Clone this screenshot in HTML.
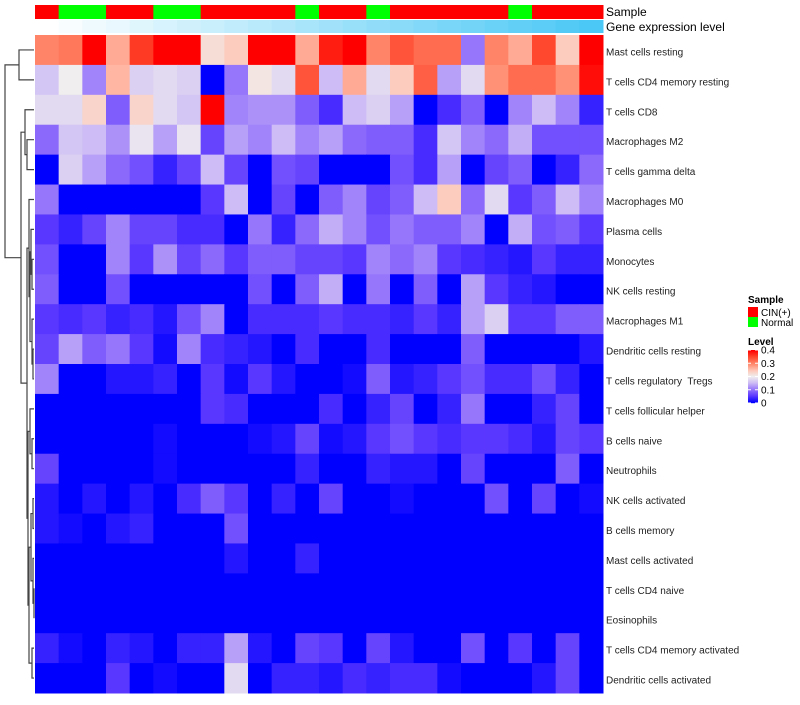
<!DOCTYPE html>
<html><head><meta charset="utf-8"><style>
body{margin:0;background:#fff;}
svg text{font-family:"Liberation Sans",sans-serif;white-space:pre;}
</style></head><body>
<svg id="chart" width="800" height="700" xmlns="http://www.w3.org/2000/svg"></svg>
<script>
const rowNames=["Mast cells resting","T cells CD4 memory resting","T cells CD8","Macrophages M2","T cells gamma delta","Macrophages M0","Plasma cells","Monocytes","NK cells resting","Macrophages M1","Dendritic cells resting","T cells regulatory  Tregs","T cells follicular helper","B cells naive","Neutrophils","NK cells activated","B cells memory","Mast cells activated","T cells CD4 naive","Eosinophils","T cells CD4 memory activated","Dendritic cells activated"];
const sampleGroups=["CIN(+)","Normal","Normal","CIN(+)","CIN(+)","Normal","Normal","CIN(+)","CIN(+)","CIN(+)","CIN(+)","Normal","CIN(+)","CIN(+)","Normal","CIN(+)","CIN(+)","CIN(+)","CIN(+)","CIN(+)","Normal","CIN(+)","CIN(+)","CIN(+)"];
const geneLevel=[0,0.04,0.09,0.13,0.17,0.22,0.26,0.3,0.35,0.39,0.43,0.48,0.52,0.57,0.61,0.65,0.7,0.74,0.78,0.83,0.87,0.91,0.96,1];
const r0=[.3,.31,.4,.27,.36,.4,.4,.22,.24,.4,.4,.27,.38,.4,.3,.34,.32,.32,.1,.3,.27,.35,.24,.4];
const r1=[.16,.2,.11,.26,.17,.18,.17,0,.1,.21,.18,.34,.15,.27,.18,.24,.33,.13,.18,.29,.32,.32,.29,.39];
const r2=[.18,.18,.23,.08,.23,.18,.16,.4,.11,.12,.12,.08,.04,.15,.17,.13,0,.04,.08,0,.11,.15,.11,.03];
const r3=[.09,.16,.15,.12,.19,.13,.19,.06,.13,.11,.15,.11,.13,.09,.08,.08,.04,.16,.11,.09,.14,.07,.07,.07];
const r4=[0,.17,.13,.09,.07,.03,.06,.15,.06,0,.07,.06,0,0,0,.07,.04,.13,0,.06,.08,0,.03,.09];
const r5=[.1,0,0,0,0,0,0,.05,.15,0,.06,0,.08,.11,.06,.08,.15,.24,.09,.18,.05,.08,.15,.11];
const r6=[.05,.03,.06,.11,.06,.06,.04,.04,0,.1,.03,.09,.14,.11,.07,.1,.08,.08,.11,0,.14,.07,.08,.05];
const r7=[.07,0,0,.11,.05,.12,.06,.09,.05,.08,.08,.06,.06,.05,.11,.09,.11,.05,.04,.03,.02,.05,.03,.03];
const r8=[.08,0,0,.07,0,0,0,0,0,.07,0,.08,.14,0,.1,0,.08,0,.13,.05,.03,.02,0,0];
const r9=[.05,.04,.05,.03,.04,.02,.07,.11,0,.04,.04,.04,.05,.04,.04,.03,.05,.03,.13,.17,.05,.05,.08,.08];
const r10=[.06,.13,.08,.1,.05,.01,.11,.04,.03,.02,0,.04,0,0,.04,0,0,0,.08,0,0,0,0,.02];
const r11=[.11,0,0,.02,.02,.03,0,.05,.01,.05,.02,0,0,.01,.08,.02,.03,.05,.07,.04,.04,.07,.03,0];
const r12=[0,0,0,0,0,0,0,.05,.04,0,0,0,.04,0,.03,.06,0,.03,.1,0,0,.03,.06,0];
const r13=[0,0,0,0,0,.01,0,0,0,.01,.02,.06,.01,.02,.05,.07,.05,.04,.05,.05,.04,.02,.06,.05];
const r14=[.06,0,0,0,0,.01,0,0,0,0,0,.03,0,0,.03,.02,.02,0,.06,0,0,0,.08,0];
const r15=[.02,0,.02,0,.02,0,.04,.08,.05,0,.03,0,.06,0,0,.01,0,0,0,.07,0,.06,0,.01];
const r16=[.02,.01,0,.02,.03,0,0,0,.07,0,0,0,0,0,0,0,0,0,0,0,0,0,0,0];
const r17=[0,0,0,0,0,0,0,0,.02,0,0,.03,0,0,0,0,0,0,0,0,0,0,0,0];
const r18=[0,0,0,0,0,0,0,0,0,0,0,0,0,0,0,0,0,0,0,0,0,0,0,0];
const r19=[0,0,0,0,0,0,0,0,0,0,0,0,0,0,0,0,0,0,0,0,0,0,0,0];
const r20=[.03,.01,0,.03,.02,0,.03,.03,.13,.02,0,.06,.05,0,.06,.02,0,0,.07,0,.05,0,.06,0];
const r21=[0,0,0,.05,0,.01,0,0,.18,0,.03,.03,.02,.04,.03,.04,.04,.01,0,0,0,.02,.06,0];
const values=[r0,r1,r2,r3,r4,r5,r6,r7,r8,r9,r10,r11,r12,r13,r14,r15,r16,r17,r18,r19,r20,r21];
const legendTicks=[0.4,0.3,0.2,0.1,0];

const NS="http://www.w3.org/2000/svg";
const svg=document.getElementById('chart');
function mk(t,a,p){const e=document.createElementNS(NS,t);for(const k in a)e.setAttribute(k,a[k]);(p||svg).appendChild(e);return e;}
const X0=35,X1=603,Y0=35,Y1=693;
const nC=sampleGroups.length,nR=rowNames.length;
const cw=(X1-X0)/nC,rh=(Y1-Y0)/nR;
const xs=i=>X0+i*cw, ys=j=>Y0+j*rh;
const stops=[[0,[0,0,255]],[0.05,[90,55,255]],[0.1,[150,118,250]],[0.15,[205,188,245]],[0.2,[240,238,238]],[0.25,[255,195,178]],[0.3,[255,132,104]],[0.35,[255,72,45]],[0.4,[255,0,0]]];
function col(v){v=Math.max(0,Math.min(0.4,v));for(let i=1;i<stops.length;i++){if(v<=stops[i][0]){const a=stops[i-1],b=stops[i],t=(v-a[0])/(b[0]-a[0]);const c=a[1].map((x,k)=>Math.round(x+(b[1][k]-x)*t));return `rgb(${c})`;}}return 'rgb(255,0,0)';}
sampleGroups.forEach((g,i)=>{const r=mk('rect',{x:xs(i),y:5,width:cw+0.5,height:14,fill:g==="Normal"?"#00ff00":"#ff0000"});

});
geneLevel.forEach((v,i)=>{const c=[255-Math.round(180*v),255-Math.round(55*v),255-Math.round(10*v)];const r=mk('rect',{x:xs(i),y:20,width:cw+0.5,height:13,fill:`rgb(${c})`});

});
let t=mk('text',{x:606,y:16,'font-size':12});t.textContent="Sample";
t=mk('text',{x:606,y:31,'font-size':12});t.textContent="Gene expression level";
values.forEach((row,j)=>row.forEach((v,i)=>{const r=mk('rect',{x:xs(i),y:ys(j),width:cw+0.5,height:rh+0.5,fill:col(v)});

}));
rowNames.forEach((n,j)=>{const e=mk('text',{x:606,y:ys(j)+rh/2+5.5,'font-size':10,fill:'#222'});e.textContent=n;

});
const tree=[5,[19,0,1],[21,[25,2,[27,3,4]],[27,[29,5,[30,[31,6,[32,7,8]],[32,9,[33,10,11]]]],[28,[30,12,[32,13,14]],[29,[31,[33,15,16],[33,17,[34,18,19]]],[32,20,21]]]]]];
const dg=mk('g',{stroke:'#444','stroke-width':1.2,fill:'none'});


function draw(n){if(typeof n==='number')return {x:X0-1,y:ys(n)+rh/2};const h=n[0],a=draw(n[1]),b=draw(n[2]);
mk('path',{d:`M${a.x},${a.y}H${h}V${b.y}H${b.x}`},dg);return {x:h,y:(a.y+b.y)/2};}
draw(tree);
t=mk('text',{x:748,y:303,'font-size':10,'font-weight':'bold'});t.textContent="Sample";
[["CIN(+)","#ff0000"],["Normal","#00ff00"]].forEach((d,k)=>{const r=mk('rect',{x:748,y:307+k*10,width:10,height:10,fill:d[1]});
const e=mk('text',{x:761,y:316+k*10,'font-size':10});e.textContent=d[0];});
t=mk('text',{x:748,y:345,'font-size':10,'font-weight':'bold'});t.textContent="Level";
const gy0=350,gy1=403;
for(let k=0;k<53;k++){const v=0.4-0.4*k/52;mk('rect',{x:748,y:gy0+k,width:10,height:1.2,fill:col(v)});}
legendTicks.forEach(v=>{const y=gy1-(v/0.4)*(gy1-gy0);mk('line',{x1:748,x2:751,y1:y,y2:y,stroke:'#fff'});mk('line',{x1:755,x2:758,y1:y,y2:y,stroke:'#fff'});
const e=mk('text',{x:761,y:y+3.5,'font-size':10});e.textContent=v===0?'0':String(v);});
</script>
</body></html>
